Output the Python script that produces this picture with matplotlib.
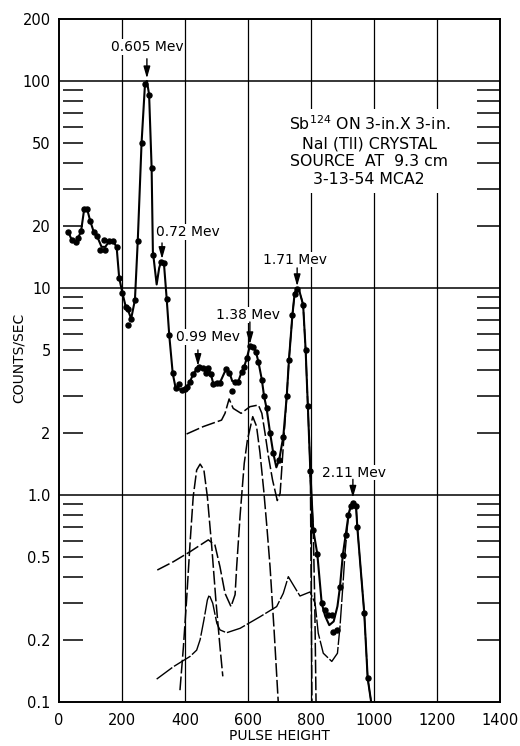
# Sb-124 gamma spectrum on a 3x3 in. NaI(Tl) crystal: measured counts with
# fitted curve plus dashed component curves, log count-rate axis.

import numpy as np
import matplotlib
matplotlib.use("Agg")
import matplotlib.pyplot as plt
from matplotlib.ticker import NullLocator

plt.rcParams["font.family"] = ["DejaVu Sans"]

# Data

# measured points
dot_x = [30, 40, 53, 61, 70, 80, 89, 99, 110, 120, 131, 143, 147, 160, 172, 183,
         191, 201, 212, 218, 220, 229, 241, 250, 262, 272, 285, 294, 298, 324, 333,
         342, 350, 361, 370, 382, 389, 400, 407, 416, 426, 437, 444, 458, 466, 474,
         482, 490, 501, 511, 530, 541, 548, 559, 569, 580, 588, 596, 606, 617, 625,
         633, 644, 651, 659, 670, 680, 699, 712, 723, 730, 741, 748, 757, 775, 783,
         790, 798, 807, 820, 834, 845, 855, 866, 871, 884, 892, 901, 910, 919, 926,
         934, 943, 947, 969, 980]
dot_y = [18.6, 17.1, 16.6, 17.5, 18.8, 24.1, 24.1, 21.1, 18.7, 17.9, 15.3, 17.1, 15.3,
         16.9, 16.9, 15.7, 11.2, 9.5, 8.1, 7.9, 6.6, 7.1, 8.75, 16.9, 50, 97, 86, 38,
         14.5, 13.4, 13.2, 8.8, 5.9, 3.87, 3.3, 3.44, 3.21, 3.24, 3.34, 3.53, 3.84,
         4.05, 4.17, 4.12, 3.90, 4.1, 3.84, 3.44, 3.49, 3.49, 4.05, 3.9, 3.19, 3.53,
         3.53, 3.94, 4.17, 4.57, 5.25, 5.2, 4.92, 4.4, 3.6, 3.0, 2.62, 2.0, 1.6, 1.48,
         1.91, 3.0, 4.49, 7.4, 9.4, 9.9, 8.3, 5.0, 2.69, 1.3, 0.68, 0.52, 0.30, 0.278,
         0.263, 0.263, 0.219, 0.223, 0.36, 0.513, 0.64, 0.80, 0.885, 0.918, 0.885, 0.70,
         0.27, 0.13]

# hand-drawn curve through the points
main_x = [30, 40, 53, 61, 70, 80, 89, 99, 110, 120, 135, 147, 160, 172, 183, 191, 201,
          212, 218, 229, 241, 250, 262, 273, 279, 286, 294, 298, 310, 318, 324, 333,
          342, 350, 361, 370, 389, 400, 407, 416, 426, 437, 444, 458, 466, 474, 482,
          490, 501, 511, 530, 541, 550, 559, 569, 580, 588, 596, 606, 617, 625, 633,
          644, 651, 659, 670, 680, 690, 699, 712, 723, 730, 741, 748, 755, 762, 775,
          783, 790, 798, 807, 820, 834, 845, 858, 872, 884, 892, 901, 910, 919, 926,
          934, 943, 947, 969, 980, 991]
main_y = [18.6, 17.1, 16.6, 17.5, 18.8, 24.1, 24.1, 21.1, 18.7, 17.9, 15.8, 15.8, 16.9,
          16.9, 15.7, 11.2, 9.5, 8.1, 7.9, 7.1, 8.75, 16.9, 50, 97, 100, 86, 38, 15,
          10.4, 12.5, 13.4, 13.2, 8.8, 5.9, 3.87, 3.3, 3.21, 3.24, 3.34, 3.53, 3.84,
          4.05, 4.17, 4.12, 3.90, 4.1, 3.84, 3.44, 3.49, 3.49, 4.05, 3.9, 3.55, 3.53,
          3.53, 3.94, 4.17, 4.57, 5.25, 5.2, 4.92, 4.4, 3.6, 3.0, 2.62, 2.0, 1.6, 1.36,
          1.48, 1.91, 3.0, 4.49, 7.4, 9.4, 10.0, 9.8, 8.3, 5.0, 2.69, 1.3, 0.68, 0.52,
          0.30, 0.26, 0.235, 0.245, 0.29, 0.36, 0.513, 0.64, 0.80, 0.885, 0.918, 0.885,
          0.70, 0.27, 0.13, 0.1]

# dashed component curves
comp_a_x = [405, 458, 516, 527, 540, 553, 578, 606, 633, 644, 654, 665, 678, 693, 702,
            714, 723, 730, 741, 748, 755, 762, 775, 783, 790, 798, 803]
comp_a_y = [1.97, 2.14, 2.3, 2.48, 2.91, 2.62, 2.48, 2.67, 2.72, 2.48, 1.99, 1.53, 1.18,
            0.94, 1.02, 1.91, 3.0, 4.49, 7.4, 9.4, 10.0, 9.8, 8.3, 5.0, 2.69, 1.3, 0.1]

comp_d_x = [384, 395, 405, 416, 426, 437, 448, 460, 471, 485, 498, 511, 520]
comp_d_y = [0.114, 0.185, 0.311, 0.585, 0.98, 1.32, 1.41, 1.32, 0.98, 0.56, 0.31, 0.185,
            0.133]

comp_e_x = [312, 363, 416, 474, 495, 511, 527, 546, 559, 564, 575, 588, 598, 615, 627,
            638, 650, 660, 670, 683, 696]
comp_e_y = [0.434, 0.476, 0.532, 0.607, 0.573, 0.45, 0.335, 0.289, 0.33, 0.45, 0.8, 1.42,
            1.84, 2.39, 2.15, 1.6, 1.05, 0.7, 0.45, 0.22, 0.1]

comp_f_x = [310, 363, 416, 437, 448, 460, 471, 477, 488, 501, 511, 532, 575, 638, 691,
            712, 728, 744, 765, 797, 813, 823, 839, 866, 884, 892, 901, 908, 919, 926,
            934, 943, 947, 969, 980, 991]
comp_f_y = [0.129, 0.148, 0.166, 0.178, 0.20, 0.249, 0.311, 0.329, 0.30, 0.24, 0.223,
            0.216, 0.227, 0.258, 0.289, 0.335, 0.403, 0.367, 0.325, 0.34, 0.30, 0.215,
            0.172, 0.157, 0.172, 0.231, 0.36, 0.523, 0.80, 0.885, 0.918, 0.885, 0.70,
            0.27, 0.13, 0.1]

comp_g_x = [797, 807, 812, 816]
comp_g_y = [1.25, 0.70, 0.3, 0.1]

# peak labels: text, text position, arrow x, arrow tail y, arrow tip y
peak_labels = ["0.605 Mev", "0.72 Mev", "0.99 Mev", "1.38 Mev", "1.71 Mev", "2.11 Mev"]
label_x     = [279, 410, 473, 600, 749, 937]
label_y     = [146, 18.6, 5.8, 7.4, 13.7, 1.28]
arrow_x     = [279, 327, 441, 606, 756, 933]
arrow_from  = [128, 16.5, 5.02, 6.85, 12.5, 1.19]
arrow_to    = [103, 13.8, 4.2, 5.35, 10.2, 0.97]

x_ticks = [0, 200, 400, 600, 800, 1000, 1200, 1400]
y_ticks = [0.1, 0.2, 0.5, 1, 2, 5, 10, 20, 50, 100, 200]
y_tick_labels = ["0.1", "0.2", "0.5", "1.0", "2", "5", "10", "20", "50", "100", "200"]
grid_x = [200, 400, 600, 800, 1000, 1200]
grid_y = [1, 10, 100]
short_marks = [m * d for d in (0.1, 1, 10) for m in range(2, 10)]

info_text = ("Sb$^{124}$ ON 3-in.X 3-in.\nNaI (TlI) CRYSTAL\n"
             "SOURCE  AT  9.3 cm\n3-13-54 MCA2")

# Plot

fig = plt.figure(figsize=(5.2, 7.46), dpi=100)
ax = fig.add_axes([0.1135, 0.059, 0.848, 0.916])
ax.set_yscale("log")
ax.set_xlim(0, 1400)
ax.set_ylim(0.1, 200)

for gx in grid_x:
    ax.axvline(gx, color="black", lw=0.9, zorder=1)
for gy in grid_y:
    ax.axhline(gy, color="black", lw=1.1, zorder=1)

# short scale marks inside the frame, both sides
ax.hlines(short_marks, 13, 76, color="black", lw=1.1, zorder=1)
ax.hlines(short_marks, 1327, 1400, color="black", lw=1.1, zorder=1)

dash = dict(color="black", lw=1.1, dashes=(9, 2), zorder=3)
ax.plot(comp_a_x, comp_a_y, **dash)
ax.plot(comp_d_x, comp_d_y, **dash)
ax.plot(comp_e_x, comp_e_y, **dash)
ax.plot(comp_f_x, comp_f_y, color="black", lw=1.0, dashes=(14, 1.5), zorder=3)
ax.plot(comp_g_x, comp_g_y, **dash)

ax.plot(main_x, main_y, "-", color="black", lw=1.5, zorder=4)
ax.plot(dot_x, dot_y, "o", color="black", ms=3.6, zorder=5)

for txt, tx, ty, ax_x, a0, a1 in zip(peak_labels, label_x, label_y,
                                      arrow_x, arrow_from, arrow_to):
    ax.text(tx, ty, txt, ha="center", va="center", fontsize=10, zorder=6,
            bbox=dict(facecolor="white", edgecolor="none", pad=0.5))
    ax.annotate("", xy=(ax_x, a1), xytext=(ax_x, a0), zorder=6,
                arrowprops=dict(arrowstyle="-|>,head_length=0.7,head_width=0.2",
                                color="black", lw=1.0, shrinkA=0, shrinkB=0))

ax.text(985, 46, info_text, ha="center", va="center", fontsize=11.3,
        linespacing=1.25, zorder=6,
        bbox=dict(facecolor="white", edgecolor="none", pad=4))

ax.set_xticks(x_ticks)
ax.set_yticks(y_ticks)
ax.set_yticklabels(y_tick_labels)
ax.yaxis.set_minor_locator(NullLocator())
ax.tick_params(axis="both", length=0, labelsize=10.5)
ax.tick_params(axis="x", pad=8)
ax.tick_params(axis="y", pad=6)

for s in ax.spines.values():
    s.set_linewidth(1.4)

# axis titles placed in figure coordinates
fig.text(279 / 520, 1 - 736 / 746, "PULSE HEIGHT", ha="center", va="center",
         fontsize=10)
fig.text(19 / 520, 1 - 358 / 746, "COUNTS/SEC", ha="center", va="center",
         rotation=90, fontsize=10)

fig.savefig("out.png", dpi=100)
